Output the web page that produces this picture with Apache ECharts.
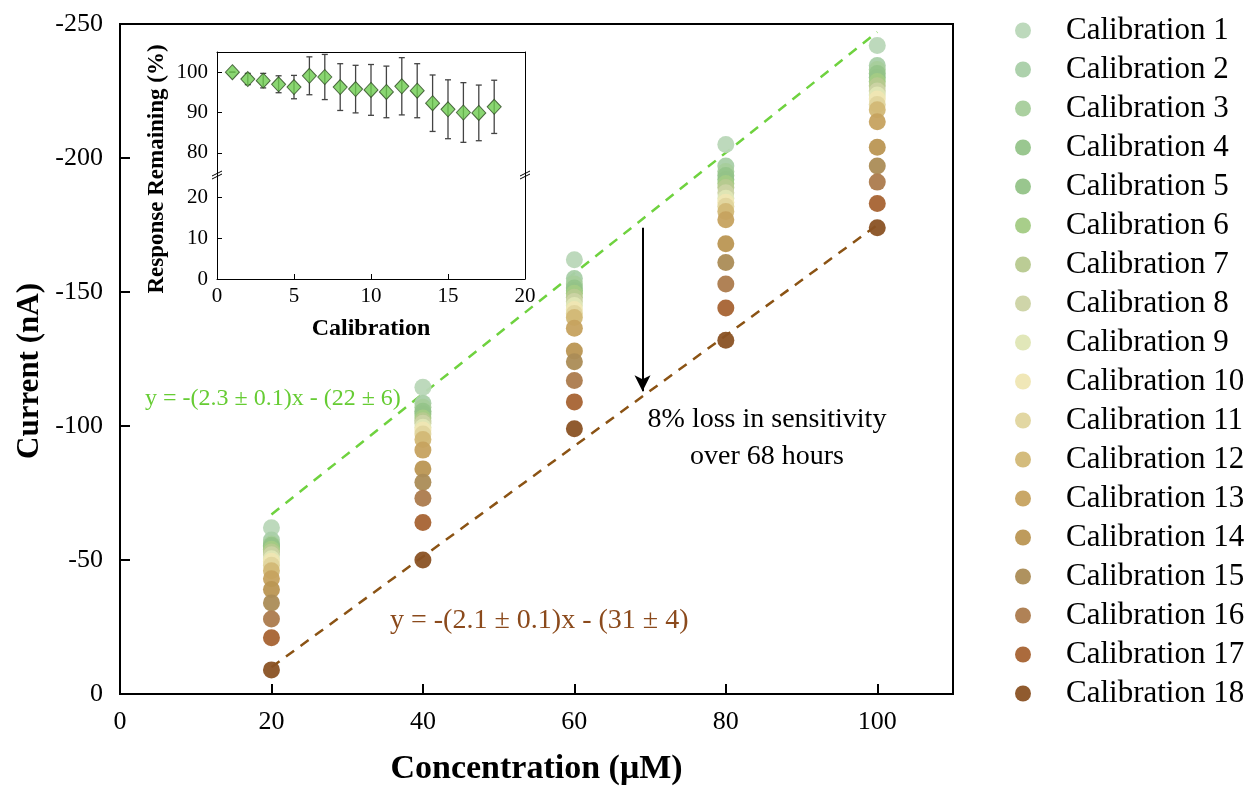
<!DOCTYPE html>
<html>
<head>
<meta charset="utf-8">
<script src="https://cdn.jsdelivr.net/npm/echarts@6/dist/echarts.min.js"></script>
<style>
  html, body { margin: 0; padding: 0; background: #fff; }
  #chart { width: 1252px; height: 788px; }
</style>
</head>
<body>
<div id="chart"></div>
<script>
// main chart data: current (nA) per calibration, one array per concentration
var concentrations = [20, 40, 60, 80, 100];
var cur20 = [-62, -57.5, -56, -55.5, -55, -54, -53, -52, -50.5, -49.5, -48, -46, -43, -39, -34, -28, -21, -9];
var cur40 = [-114.5, -108.5, -107, -105.5, -104.5, -103, -102, -101, -99.5, -98.5, -97, -95, -91, -84, -79, -73, -64, -50];
var cur60 = [-162, -155, -153, -151.5, -150.5, -149.5, -148, -146.5, -145, -143.5, -142, -140.5, -136.5, -128, -124, -117, -109, -99];
var cur80 = [-205, -197, -195, -193.5, -192, -190.5, -189, -187, -185, -183.5, -182, -180, -177, -168, -161, -153, -144, -132];
var cur100 = [-242, -234.5, -233, -231.5, -230, -228.5, -227, -225, -223.5, -222, -220, -218, -213.5, -204, -197, -191, -183, -174];

var calColors = ['#b9d7b8', '#a9cfa8', '#a6cd9b', '#95c48a', '#93c388', '#a3cb84', '#b7c98f', '#ccd3a4', '#dfe6b5',
  '#efe6b3', '#e0d59e', '#d2b876', '#c6a25f', '#bb9653', '#ab8c56', '#ac7b4d', '#a66333', '#8a5224'];

// fitted lines (end points)
var fitFirst = [[20, -67], [100, -247]];
var fitLast = [[20, -10], [100, -175]];
var arrowLine = [[69, -174], [69, -113]];

var xTicks = [0, 20, 40, 60, 80, 100];

// inset data
var calNumbers = [1, 2, 3, 4, 5, 6, 7, 8, 9, 10, 11, 12, 13, 14, 15, 16, 17, 18];
var remaining = [100, 98.3, 97.9, 97.0, 96.3, 99.1, 98.8, 96.3, 95.8, 95.6, 95.1, 96.5, 95.4, 92.3, 90.8, 90.0, 89.9, 91.4];
var remainingErr = [0, 1.4, 1.8, 2.1, 2.9, 4.7, 5.6, 5.8, 5.9, 6.3, 6.4, 7.1, 6.7, 7.0, 7.3, 7.4, 6.9, 6.6];
var insetUpperTicks = [80, 90, 100];
var insetLowerTicks = [0, 10, 20];

var FONT = 'Liberation Serif';
var chart = echarts.init(document.getElementById('chart'));

var columns = [cur20, cur40, cur60, cur80, cur100];
var series = [];
var names = [];
for (var i = 0; i < calNumbers.length; i++) {
  var name = 'Calibration ' + calNumbers[i];
  names.push(name);
  series.push({
    name: name,
    type: 'scatter',
    xAxisIndex: 0,
    yAxisIndex: 0,
    symbol: 'circle',
    symbolSize: 17,
    itemStyle: { color: calColors[i], opacity: 0.95 },
    data: concentrations.map(function (c, j) { return [c, columns[j][i]]; }),
    z: 3
  });
}

series.push({
  type: 'line', xAxisIndex: 0, yAxisIndex: 0, data: fitFirst, symbol: 'none', z: 2,
  lineStyle: { color: '#6fd23f', width: 2.5, type: [10, 8] }
});
series.push({
  type: 'line', xAxisIndex: 0, yAxisIndex: 0, data: fitLast, symbol: 'none', z: 2,
  lineStyle: { color: '#8b5314', width: 2.5, type: [10, 8] },
  markLine: {
    silent: true,
    symbol: ['none', 'arrow'],
    symbolSize: [12, 16],
    label: { show: false },
    lineStyle: { color: '#000', width: 2, type: 'solid' },
    data: [[{ coord: arrowLine[0] }, { coord: arrowLine[1] }]]
  }
});

// inset error bars
series.push({
  type: 'custom',
  xAxisIndex: 1,
  yAxisIndex: 1,
  data: calNumbers.map(function (c, k) { return [c, remaining[k] - remainingErr[k], remaining[k] + remainingErr[k]]; }),
  renderItem: function (params, api) {
    var lo = api.coord([api.value(0), api.value(1)]);
    var hi = api.coord([api.value(0), api.value(2)]);
    var w = 3;
    var st = { stroke: '#444', lineWidth: 1.3 };
    return {
      type: 'group',
      children: [
        { type: 'line', shape: { x1: lo[0], y1: lo[1], x2: hi[0], y2: hi[1] }, style: st },
        { type: 'line', shape: { x1: lo[0] - w, y1: lo[1], x2: lo[0] + w, y2: lo[1] }, style: st },
        { type: 'line', shape: { x1: hi[0] - w, y1: hi[1], x2: hi[0] + w, y2: hi[1] }, style: st }
      ]
    };
  },
  z: 5
});
series.push({
  type: 'scatter',
  xAxisIndex: 1,
  yAxisIndex: 1,
  symbol: 'diamond',
  symbolSize: [14, 15],
  itemStyle: { color: '#6dcc4f', borderColor: '#2d4a22', borderWidth: 1 },
  data: calNumbers.map(function (c, k) { return [c, remaining[k]]; }),
  z: 6
});

var tickFont = { fontFamily: FONT, fontSize: 26, color: '#000' };
var insetFont = { fontFamily: FONT, fontSize: 21, color: '#000' };

var inset = { left: 217, width: 308, upperTop: 52, upperH: 123, lowerH: 104 };

var option = {
  backgroundColor: '#fff',
  animation: false,
  legend: {
    data: names,
    orient: 'vertical',
    left: 1015,
    top: 15,
    padding: 0,
    icon: 'circle',
    itemWidth: 16,
    itemHeight: 16,
    itemGap: 8,
    textStyle: { fontFamily: FONT, fontSize: 31, lineHeight: 30, color: '#000', padding: [0, 0, 0, 30] }
  },
  grid: [
    { left: 120, top: 24, width: 833, height: 670, outerBoundsMode: 'none', show: true, borderColor: '#000', borderWidth: 2, backgroundColor: 'transparent' },
    { left: inset.left, top: inset.upperTop, width: inset.width, height: inset.upperH, outerBoundsMode: 'none', show: true, borderWidth: 0, backgroundColor: '#fff' },
    { left: inset.left, top: inset.upperTop + inset.upperH, width: inset.width, height: inset.lowerH, outerBoundsMode: 'none', show: true, borderWidth: 0, backgroundColor: '#fff' }
  ],
  xAxis: [
    {
      gridIndex: 0, type: 'value', min: 0, max: 110,
      name: 'Concentration (\u03bcM)', nameLocation: 'middle', nameGap: 58,
      nameTextStyle: { fontFamily: FONT, fontSize: 34, fontWeight: 'bold', color: '#000' },
      axisLine: { lineStyle: { color: '#000', width: 2 } },
      axisTick: { inside: true, length: 10, lineStyle: { width: 2, color: '#000' }, customValues: xTicks },
      axisLabel: Object.assign({ margin: 15, customValues: xTicks }, tickFont),
      splitLine: { show: false }
    },
    {
      gridIndex: 1, type: 'value', min: 0, max: 20, position: 'top',
      axisLine: { lineStyle: { color: '#000', width: 1 } },
      axisTick: { show: false }, axisLabel: { show: false }, splitLine: { show: false }
    },
    {
      gridIndex: 2, type: 'value', min: 0, max: 20, interval: 5,
      name: 'Calibration', nameLocation: 'middle', nameGap: 38,
      nameTextStyle: { fontFamily: FONT, fontSize: 24, fontWeight: 'bold', color: '#000' },
      axisLine: { lineStyle: { color: '#000', width: 1 } },
      axisTick: { inside: true, length: 5, lineStyle: { color: '#000' } },
      axisLabel: Object.assign({ margin: 7 }, insetFont),
      splitLine: { show: false }
    }
  ],
  yAxis: [
    {
      gridIndex: 0, type: 'value', min: -250, max: 0, interval: 50, inverse: true,
      axisLine: { lineStyle: { color: '#000', width: 2 } },
      axisTick: { inside: true, length: 10, lineStyle: { width: 2, color: '#000' } },
      axisLabel: Object.assign({ margin: 17 }, tickFont),
      splitLine: { show: false }
    },
    {
      gridIndex: 1, type: 'value', min: 74.5, max: 105,
      axisLine: { show: true, lineStyle: { color: '#000', width: 1 } },
      axisTick: { inside: true, length: 5, lineStyle: { color: '#000' }, customValues: insetUpperTicks },
      axisLabel: Object.assign({ margin: 9, customValues: insetUpperTicks }, insetFont),
      splitLine: { show: false }
    },
    {
      gridIndex: 2, type: 'value', min: 0, max: 25.5,
      axisLine: { show: true, lineStyle: { color: '#000', width: 1 } },
      axisTick: { inside: true, length: 5, lineStyle: { color: '#000' }, customValues: insetLowerTicks },
      axisLabel: Object.assign({ margin: 9, customValues: insetLowerTicks }, insetFont),
      splitLine: { show: false }
    },
    {
      gridIndex: 1, type: 'value', min: 74.5, max: 105, position: 'right',
      axisLine: { show: true, lineStyle: { color: '#000', width: 1 } },
      axisTick: { show: false }, axisLabel: { show: false }, splitLine: { show: false }
    },
    {
      gridIndex: 2, type: 'value', min: 0, max: 25.5, position: 'right',
      axisLine: { show: true, lineStyle: { color: '#000', width: 1 } },
      axisTick: { show: false }, axisLabel: { show: false }, splitLine: { show: false }
    }
  ],
  graphic: [],
  series: series
};

// axis break marks and annotation texts
var breakY = inset.upperTop + inset.upperH;
function breakMark(x) {
  return {
    type: 'group', x: x, y: breakY, z: 100,
    children: [
      { type: 'rect', shape: { x: -5, y: -2, width: 10, height: 4 }, style: { fill: '#fff' } },
      { type: 'line', shape: { x1: -5, y1: 1, x2: 5, y2: -4 }, style: { stroke: '#000', lineWidth: 1 } },
      { type: 'line', shape: { x1: -5, y1: 4, x2: 5, y2: -1 }, style: { stroke: '#000', lineWidth: 1 } }
    ]
  };
}
option.graphic = [
  breakMark(inset.left),
  breakMark(inset.left + inset.width),
  {
    type: 'text', x: 30, y: 371, rotation: Math.PI / 2, z: 100,
    style: { text: 'Current (nA)', fontFamily: FONT, fontSize: 31, fontWeight: 'bold', fill: '#000', textAlign: 'center', textVerticalAlign: 'middle' }
  },
  {
    type: 'text', x: 157, y: 169, rotation: Math.PI / 2, z: 100,
    style: { text: 'Response Remaining (%)', fontFamily: FONT, fontSize: 23, fontWeight: 'bold', fill: '#000', textAlign: 'center', textVerticalAlign: 'middle' }
  },
  {
    type: 'text', x: 145, y: 399, z: 100,
    style: { text: 'y = -(2.3 \u00b1 0.1)x - (22 \u00b1 6)', fontFamily: FONT, fontSize: 24, fill: '#66cc33', textVerticalAlign: 'middle' }
  },
  {
    type: 'text', x: 390, y: 621, z: 100,
    style: { text: 'y = -(2.1 \u00b1 0.1)x - (31 \u00b1 4)', fontFamily: FONT, fontSize: 28, fill: '#8b4a1c', textVerticalAlign: 'middle' }
  },
  {
    type: 'text', x: 767, y: 420, z: 100,
    style: { text: '8% loss in sensitivity', fontFamily: FONT, fontSize: 28, fill: '#000', textAlign: 'center', textVerticalAlign: 'middle' }
  },
  {
    type: 'text', x: 767, y: 457, z: 100,
    style: { text: 'over 68 hours', fontFamily: FONT, fontSize: 28, fill: '#000', textAlign: 'center', textVerticalAlign: 'middle' }
  }
];

chart.setOption(option);
</script>
</body>
</html>
